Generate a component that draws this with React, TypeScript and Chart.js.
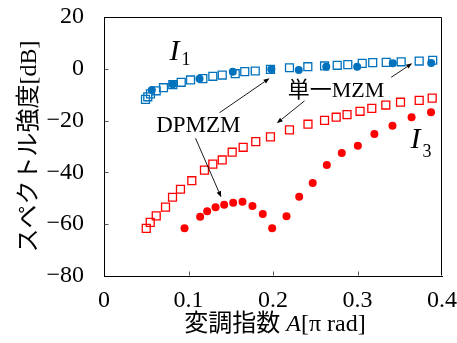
import { useEffect, useRef } from 'react';
import { Chart, registerables } from 'chart.js';

Chart.register(...registerables);

// 単一MZM, I1 (open blue squares)
const singleI1X = [0.0491, 0.0518, 0.055, 0.0618, 0.0704, 0.0814, 0.0914, 0.1024, 0.117, 0.1288, 0.1399, 0.1553, 0.1666, 0.179, 0.197, 0.2195, 0.2412, 0.261, 0.276, 0.2885, 0.3056, 0.318, 0.334, 0.3517, 0.373, 0.389];
const singleI1Y = [-11.8, -10.8, -9.7, -8.5, -7.3, -6.1, -5.2, -4.3, -3.8, -2.9, -2.4, -1.9, -1.1, -0.85, -0.2, 0.4, 0.8, 1.1, 1.35, 1.6, 2.1, 2.4, 2.5, 2.7, 3.0, 3.3];

// DPMZM, I1 (filled blue dots)
const dpI1X = [0.0566, 0.0814, 0.113, 0.1524, 0.198, 0.2305, 0.263, 0.2996, 0.3418, 0.3872];
const dpI1Y = [-8.2, -6.0, -3.8, -1.1, -0.2, -0.5, 0.8, 0.8, 2.1, 2.2];

// 単一MZM, I3 (open red squares)
const singleI3X = [0.05, 0.0547, 0.0618, 0.0728, 0.0811, 0.0905, 0.1039, 0.1189, 0.1288, 0.1399, 0.1517, 0.1647, 0.1796, 0.197, 0.2195, 0.2414, 0.261, 0.2748, 0.2876, 0.303, 0.3169, 0.3335, 0.3509, 0.373, 0.3884];
const singleI3Y = [-61.6, -59.3, -56.8, -53.4, -49.6, -46.5, -43.2, -39.1, -36.8, -35.2, -32.2, -30.3, -28.1, -26.3, -23.6, -21.4, -19.9, -18.7, -17.7, -16.4, -15.3, -14.0, -12.9, -12.2, -11.3];

// DPMZM, I3 (filled red dots)
const dpI3X = [0.0953, 0.1138, 0.1221, 0.132, 0.1422, 0.1529, 0.1639, 0.1757, 0.1879, 0.199, 0.216, 0.231, 0.247, 0.2637, 0.2814, 0.3004, 0.32, 0.3414, 0.364, 0.387];
const dpI3Y = [-61.6, -57.1, -55.0, -53.5, -52.5, -51.7, -51.3, -53.0, -56.1, -61.6, -56.9, -49.4, -44.1, -37.1, -32.5, -29.7, -25.2, -22.0, -18.7, -16.8];

const xTickValues = [0, 0.1, 0.2, 0.3, 0.4];
const yTickValues = [-80, -60, -40, -20, 0, 20];

const xTitleParts = ['変調指数 ', 'A', '[π rad]'];
const yTitle = 'スペクトル強度[dB]';

// labels: [text, x, y]
const labelDPMZM: [string, number, number] = ['DPMZM', 0.0618, -24.3];
const labelSingle: [string, number, number] = ['単一MZM', 0.2175, -10.9];
const labelI1: [number, number, number, number] = [0.0775, 3.4, 0.0917, 1.47];
const labelI3: [number, number, number, number] = [0.3627, -30.7, 0.3769, -33.9];
// arrows: [x1, y1, x2, y2]
const arrows: [number, number, number, number][] = [
  [0.1367, -16.95, 0.1959, -3.67],
  [0.1083, -26.8, 0.1387, -49.6],
  [0.2373, -12.4, 0.2045, -21.0],
  [0.3399, -3.28, 0.3647, 2.1],
];

const LATIN = "'Liberation Serif', 'Times New Roman', serif";
const MIXED = "'Liberation Serif', 'Noto Sans CJK JP', serif";
const BLUE = '#0072BD';
const RED = '#FF0000';

const pts = (xs: number[], ys: number[]) => xs.map((x, i) => ({ x, y: ys[i] }));

export default function App() {
  const ref = useRef<HTMLCanvasElement>(null);

  useEffect(() => {
    if (!ref.current) return;

    const overlay = {
      id: 'overlay',
      afterDatasetsDraw(chart: any) {
        const { ctx, chartArea: a, scales } = chart;
        const sx = scales.x;
        const sy = scales.y;
        const px = (v: number) => sx.getPixelForValue(v);
        const py = (v: number) => sy.getPixelForValue(v);
        ctx.save();
        // box
        ctx.strokeStyle = '#000';
        ctx.lineWidth = 1;
        const L = Math.round(a.left) + 0.5;
        const R = Math.round(a.right) - 0.5;
        const T = Math.round(a.top) + 0.5;
        const B = Math.round(a.bottom) - 0.5;
        ctx.beginPath();
        ctx.moveTo(L, T);
        ctx.lineTo(R, T);
        ctx.lineTo(R, B);
        ctx.stroke();
        // inward ticks
        ctx.strokeStyle = '#555';
        ctx.beginPath();
        xTickValues.slice(1, -1).forEach((v) => {
          const x = Math.round(px(v)) + 0.5;
          ctx.moveTo(x, B);
          ctx.lineTo(x, B - 4);
        });
        yTickValues.slice(1, -1).forEach((v) => {
          const y = Math.round(py(v)) + 0.5;
          ctx.moveTo(L, y);
          ctx.lineTo(L + 4, y);
        });
        ctx.stroke();

        // arrows
        ctx.strokeStyle = '#000';
        ctx.fillStyle = '#000';
        ctx.lineWidth = 0.9;
        arrows.forEach(([x1, y1, x2, y2]) => {
          const X1 = px(x1), Y1 = py(y1), X2 = px(x2), Y2 = py(y2);
          const ang = Math.atan2(Y2 - Y1, X2 - X1);
          const hl = 6, hw = 2.3;
          const bx = X2 - hl * Math.cos(ang), by = Y2 - hl * Math.sin(ang);
          ctx.beginPath();
          ctx.moveTo(X1, Y1);
          ctx.lineTo(bx, by);
          ctx.stroke();
          ctx.beginPath();
          ctx.moveTo(X2, Y2);
          ctx.lineTo(bx + hw * Math.sin(ang), by - hw * Math.cos(ang));
          ctx.lineTo(bx - hw * Math.sin(ang), by + hw * Math.cos(ang));
          ctx.closePath();
          ctx.fill();
        });

        // text labels
        ctx.fillStyle = '#000';
        ctx.textAlign = 'left';
        ctx.textBaseline = 'alphabetic';
        ctx.font = `23px ${LATIN}`;
        ctx.fillText(labelDPMZM[0], px(labelDPMZM[1]), py(labelDPMZM[2]));
        ctx.font = `22px ${MIXED}`;
        ctx.fillText(labelSingle[0], px(labelSingle[1]), py(labelSingle[2]));
        ctx.font = `italic 30px ${LATIN}`;
        ctx.fillText('I', px(labelI1[0]), py(labelI1[1]));
        ctx.fillText('I', px(labelI3[0]), py(labelI3[1]));
        ctx.font = `18px ${LATIN}`;
        ctx.fillText('1', px(labelI1[2]), py(labelI1[3]));
        ctx.fillText('3', px(labelI3[2]), py(labelI3[3]));

        // y axis title
        ctx.font = `24px ${MIXED}`;
        ctx.textAlign = 'center';
        ctx.textBaseline = 'middle';
        ctx.save();
        ctx.translate(30, (a.top + a.bottom) / 2);
        ctx.rotate(-Math.PI / 2);
        ctx.fillText(yTitle, 0, 0);
        ctx.restore();

        // x axis title with italic A
        ctx.textAlign = 'left';
        const fonts = [`24px ${MIXED}`, `italic 24px ${LATIN}`, `24px ${LATIN}`];
        const widths = xTitleParts.map((t, i) => {
          ctx.font = fonts[i];
          return ctx.measureText(t).width;
        });
        const total = widths.reduce((s, w) => s + w, 0);
        let cx = (a.left + a.right) / 2 + 2 - total / 2;
        xTitleParts.forEach((t, i) => {
          ctx.font = fonts[i];
          ctx.fillText(t, cx, 325);
          cx += widths[i];
        });
        ctx.restore();
      },
    };

    const chart = new Chart(ref.current, {
      type: 'scatter',
      data: {
        datasets: [
          {
            label: 'DPMZM I1',
            data: pts(dpI1X, dpI1Y),
            pointStyle: 'circle',
            pointRadius: 4,
            pointBackgroundColor: BLUE,
            pointBorderWidth: 0,
            borderColor: BLUE,
            backgroundColor: BLUE,
            showLine: false,
          },
          {
            label: 'DPMZM I3',
            data: pts(dpI3X, dpI3Y),
            pointStyle: 'circle',
            pointRadius: 4,
            pointBackgroundColor: RED,
            pointBorderWidth: 0,
            borderColor: RED,
            backgroundColor: RED,
            showLine: false,
          },
          {
            label: '単一MZM I1',
            data: pts(singleI1X, singleI1Y),
            pointStyle: 'rect',
            pointRadius: 5.6,
            pointBackgroundColor: 'rgba(0,0,0,0)',
            pointBorderColor: BLUE,
            pointBorderWidth: 1.3,
            borderColor: BLUE,
            backgroundColor: 'rgba(0,0,0,0)',
            showLine: false,
          },
          {
            label: '単一MZM I3',
            data: pts(singleI3X, singleI3Y),
            pointStyle: 'rect',
            pointRadius: 5.6,
            pointBackgroundColor: 'rgba(0,0,0,0)',
            pointBorderColor: RED,
            pointBorderWidth: 1.3,
            borderColor: RED,
            backgroundColor: 'rgba(0,0,0,0)',
            showLine: false,
          },
        ],
      },
      options: {
        animation: false,
        responsive: true,
        maintainAspectRatio: false,
        layout: { padding: { top: 17, right: 15, left: 0, bottom: 0 } },
        plugins: {
          legend: { display: false },
          tooltip: { enabled: false },
        },
        scales: {
          x: {
            type: 'linear',
            min: 0,
            max: 0.4,
            afterFit: (s: any) => {
              s.height = 67;
              s.paddingLeft = 0;
              s.paddingRight = 0;
            },
            afterBuildTicks: (s: any) => {
              s.ticks = xTickValues.map((v) => ({ value: v }));
            },
            grid: { display: false },
            border: { display: true, color: '#000', width: 1 },
            ticks: {
              color: '#000',
              padding: 2,
              font: { family: LATIN, size: 24 },
              maxRotation: 0,
              autoSkip: false,
              callback: (v: any) => (Number(v) === 0 ? '0' : Number(v).toFixed(1)),
            },
          },
          y: {
            type: 'linear',
            min: -80,
            max: 20,
            afterFit: (s: any) => {
              s.width = 104;
              s.paddingTop = 0;
              s.paddingBottom = 0;
            },
            afterBuildTicks: (s: any) => {
              s.ticks = yTickValues.map((v) => ({ value: v }));
            },
            grid: { display: false },
            border: { display: true, color: '#000', width: 1 },
            ticks: {
              color: '#000',
              padding: 12,
              font: { family: LATIN, size: 24 },
              autoSkip: false,
              callback: (v: any) => (Number(v) < 0 ? '\u2212' + Math.abs(Number(v)) : String(v)),
            },
          },
        },
      },
      plugins: [overlay],
    });

    return () => chart.destroy();
  }, []);

  return (
    <div style={{ position: 'absolute', left: 0, top: 0, width: 457, height: 343, background: '#fff' }}>
      <canvas ref={ref} />
    </div>
  );
}
